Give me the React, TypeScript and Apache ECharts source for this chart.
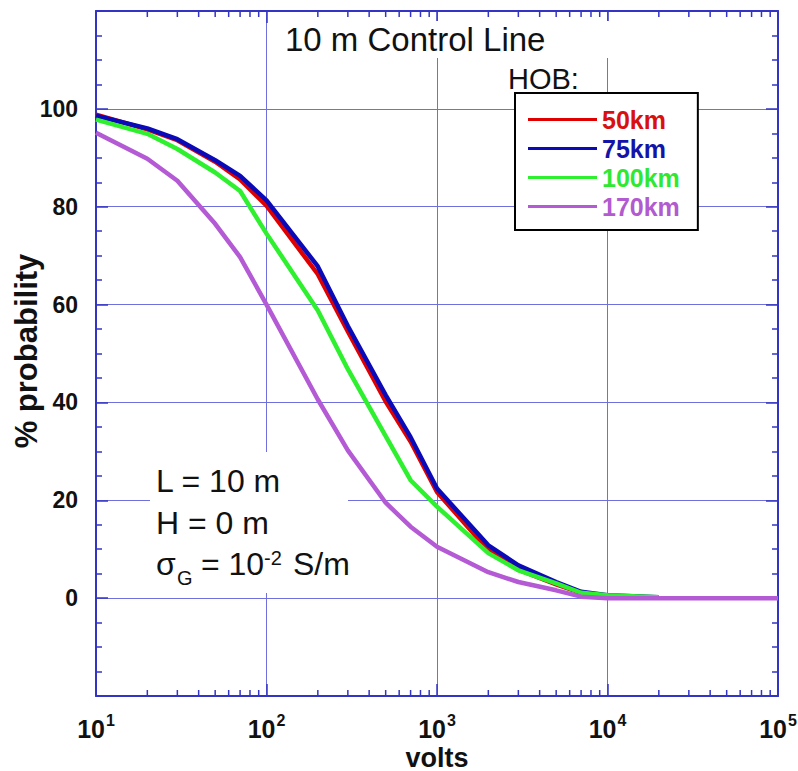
import React, { useEffect, useRef } from "react";
import * as echarts from "echarts";

const VOLTS = [10, 20, 30, 50, 70, 100, 200, 300, 500, 700, 1000, 2000, 3000, 5000, 7000, 10000, 20000, 50000, 100000];
const HOB_50 = [98.8, 95.8, 93.6, 89.2, 85.6, 80.2, 66.2, 54.5, 40.2, 32.0, 21.7, 9.8, 5.8, 2.8, 1.1, 0.5, 0.1];
const HOB_75 = [98.6, 96.0, 93.8, 89.5, 86.3, 81.3, 67.8, 55.6, 41.5, 32.9, 22.4, 10.8, 6.7, 3.3, 1.3, 0.6, 0.2];
const HOB_100 = [97.8, 94.9, 91.8, 87.0, 83.2, 74.5, 58.8, 46.8, 33.1, 24.1, 18.7, 9.2, 5.7, 3.0, 1.1, 0.6, 0.2];
const HOB_170 = [95.1, 89.8, 85.3, 76.5, 69.7, 60.0, 40.6, 30.2, 19.5, 14.6, 10.5, 5.3, 3.3, 1.6, 0.3, 0, 0, 0, 0];

const SERIES_NAMES = ["50km", "75km", "100km", "170km"];
const SERIES_VALUES = [HOB_50, HOB_75, HOB_100, HOB_170];
const LINE_COLORS = ["#e00000", "#0a0ab8", "#2ef02e", "#b45ad4"];
const TEXT_COLORS = ["#d81010", "#1414a8", "#30e830", "#b25ad0"];

const X_MIN = 10;
const X_MAX = 100000;
const Y_MIN = -20;
const Y_MAX = 120;
const Y_STEP = 20;
const Y_LABEL_MIN = 0;
const Y_LABEL_MAX = 100;

// decade tick labels (10^1 ... 10^5)
const X_DECADES = [10, 100, 1000, 10000, 100000];
// log-axis minor tick values (2..9 x 10^k)
const MINOR_X: number[] = [];
for (let k = 1; k <= 4; k++) {
  for (let m = 2; m <= 9; m++) MINOR_X.push(m * Math.pow(10, k));
}

const FONT = "'Liberation Sans', Arial, sans-serif";
const AXIS_BLUE = "#3434c4";
const GRID_BLUE = "#7070dc";

export default function App() {
  const ref = useRef<HTMLDivElement>(null);
  useEffect(() => {
    if (!ref.current) return;
    const chart = echarts.init(ref.current, null, { renderer: "svg" });

    const lineSeries = SERIES_NAMES.map((name, si) => ({
      name,
      type: "line",
      xAxisIndex: 0,
      yAxisIndex: 0,
      symbol: "none",
      smooth: false,
      z: 3,
      lineStyle: { color: LINE_COLORS[si], width: 4.5 },
      itemStyle: { color: LINE_COLORS[si] },
      data: VOLTS.map((v, i) => [v, SERIES_VALUES[si][i]]).filter(
        (d) => d[1] !== undefined && d[1] !== null
      ),
    }));

    const tickSeries = {
      name: "minorTicks",
      type: "custom",
      xAxisIndex: 0,
      yAxisIndex: 0,
      silent: true,
      clip: false,
      z: 4,
      data: MINOR_X.map((v) => [v, 0]),
      renderItem: (params: any, api: any) => {
        const x = api.value(0);
        const pb = api.coord([x, Y_MIN]);
        const pt = api.coord([x, Y_MAX]);
        const len = 6;
        const style = { stroke: AXIS_BLUE, lineWidth: 1.5 };
        return {
          type: "group",
          children: [
            { type: "line", shape: { x1: pb[0], y1: pb[1], x2: pb[0], y2: pb[1] - len }, style },
            { type: "line", shape: { x1: pt[0], y1: pt[1], x2: pt[0], y2: pt[1] + len }, style },
          ],
        };
      },
    };

    const labelSeries = {
      name: "decadeLabels",
      type: "custom",
      xAxisIndex: 0,
      yAxisIndex: 0,
      silent: true,
      clip: false,
      z: 4,
      data: X_DECADES.map((v) => [v, Y_MIN]),
      renderItem: (params: any, api: any) => {
        const v = api.value(0);
        const p = api.coord([v, Y_MIN]);
        const exp = String(Math.round(Math.log10(v)));
        return {
          type: "group",
          children: [
            {
              type: "text",
              x: p[0] + 9,
              y: p[1] + 33,
              style: { text: "10", fontSize: 25, fontWeight: "bold", fontFamily: FONT, fill: "#111", align: "right", verticalAlign: "middle" },
            },
            {
              type: "text",
              x: p[0] + 10,
              y: p[1] + 24,
              style: { text: exp, fontSize: 16, fontWeight: "bold", fontFamily: FONT, fill: "#111", align: "left", verticalAlign: "middle" },
            },
          ],
        };
      },
    };

    const option: any = {
      animation: false,
      backgroundColor: "#ffffff",
      grid: { left: 96, top: 11, right: 20, bottom: 75, containLabel: false, outerBoundsMode: "none" },
      legend: {
        show: true,
        orient: "vertical",
        left: 515,
        top: 93,
        padding: [14, 18, 11, 13],
        itemGap: 4,
        itemWidth: 69,
        itemHeight: 3,
        icon: "rect",
        backgroundColor: "#ffffff",
        borderColor: "#000000",
        borderWidth: 2,
        borderRadius: 0,
        selectedMode: false,
        textStyle: { fontSize: 25, fontWeight: "bold", fontFamily: FONT, padding: [0, 0, 0, 0] },
        data: SERIES_NAMES.map((n, i) => ({ name: n, textStyle: { color: TEXT_COLORS[i] } })),
      },
      xAxis: [
        {
          type: "log",
          logBase: 10,
          min: X_MIN,
          max: X_MAX,
          position: "bottom",
          name: "volts",
          nameLocation: "middle",
          nameGap: 48,
          nameTextStyle: { fontSize: 27, fontWeight: "bold", fontFamily: FONT, color: "#111" },
          axisLine: { show: true, onZero: false, lineStyle: { color: AXIS_BLUE, width: 2 } },
          axisTick: { show: true, inside: true, length: 12, lineStyle: { color: AXIS_BLUE, width: 1.5 } },
          axisLabel: { show: false },
          splitLine: { show: true, lineStyle: { color: GRID_BLUE, width: 1 } },
        },
        {
          type: "log",
          logBase: 10,
          min: X_MIN,
          max: X_MAX,
          position: "top",
          axisLine: { show: true, onZero: false, lineStyle: { color: AXIS_BLUE, width: 2 } },
          axisTick: { show: true, inside: true, length: 12, lineStyle: { color: AXIS_BLUE, width: 1.5 } },
          axisLabel: { show: false },
          splitLine: { show: false },
        },
      ],
      yAxis: [
        {
          type: "value",
          min: Y_MIN,
          max: Y_MAX,
          interval: Y_STEP,
          position: "left",
          axisLine: { show: true, onZero: false, lineStyle: { color: AXIS_BLUE, width: 2 } },
          axisTick: { show: true, inside: true, length: 12, lineStyle: { color: AXIS_BLUE, width: 1.5 } },
          minorTick: { show: true, splitNumber: 4, length: 6, lineStyle: { color: AXIS_BLUE, width: 1.5 } },
          axisLabel: {
            margin: 18,
            fontSize: 23,
            fontWeight: "bold",
            fontFamily: FONT,
            color: "#111",
            formatter: (v: number) => (v >= Y_LABEL_MIN && v <= Y_LABEL_MAX ? String(v) : ""),
          },
          splitLine: { show: true, lineStyle: { color: GRID_BLUE, width: 1 } },
        },
        {
          type: "value",
          min: Y_MIN,
          max: Y_MAX,
          interval: Y_STEP,
          position: "right",
          axisLine: { show: true, onZero: false, lineStyle: { color: AXIS_BLUE, width: 2 } },
          axisTick: { show: true, inside: true, length: 12, lineStyle: { color: AXIS_BLUE, width: 1.5 } },
          minorTick: { show: true, splitNumber: 4, length: 6, lineStyle: { color: AXIS_BLUE, width: 1.5 } },
          axisLabel: { show: false },
          splitLine: { show: false },
        },
      ],
      graphic: [
        { type: "rect", z: 1, silent: true, shape: { x: 274, y: 21, width: 352, height: 37 }, style: { fill: "#ffffff" } },
        { type: "rect", z: 1, silent: true, shape: { x: 150, y: 452, width: 198, height: 141 }, style: { fill: "#ffffff" } },
        {
          type: "text", z: 5, silent: true, x: 26, y: 351, rotation: Math.PI / 2,
          style: { text: "% probability", fontSize: 31, fontWeight: "bold", fontFamily: FONT, fill: "#111", align: "center", verticalAlign: "middle" },
        },
        {
          type: "text", z: 5, silent: true, x: 285, y: 39,
          style: { text: "10 m Control Line", fontSize: 33, fontFamily: FONT, fill: "#111", align: "left", verticalAlign: "middle" },
        },
        {
          type: "text", z: 5, silent: true, x: 508, y: 79,
          style: { text: "HOB:", fontSize: 29, fontFamily: FONT, fill: "#111", align: "left", verticalAlign: "middle" },
        },
        {
          type: "text", z: 5, silent: true, x: 156, y: 481,
          style: { text: "L = 10 m", fontSize: 32, fontFamily: FONT, fill: "#111", align: "left", verticalAlign: "middle" },
        },
        {
          type: "text", z: 5, silent: true, x: 156, y: 523,
          style: { text: "H = 0 m", fontSize: 32, fontFamily: FONT, fill: "#111", align: "left", verticalAlign: "middle" },
        },
        {
          type: "text", z: 5, silent: true, x: 156, y: 564,
          style: { text: "σ", fontSize: 32, fontFamily: FONT, fill: "#111", align: "left", verticalAlign: "middle" },
        },
        {
          type: "text", z: 5, silent: true, x: 177, y: 578,
          style: { text: "G", fontSize: 20, fontFamily: FONT, fill: "#111", align: "left", verticalAlign: "middle" },
        },
        {
          type: "text", z: 5, silent: true, x: 192, y: 564,
          style: { text: " = 10", fontSize: 32, fontFamily: FONT, fill: "#111", align: "left", verticalAlign: "middle" },
        },
        {
          type: "text", z: 5, silent: true, x: 264, y: 558,
          style: { text: "-2", fontSize: 20, fontFamily: FONT, fill: "#111", align: "left", verticalAlign: "middle" },
        },
        {
          type: "text", z: 5, silent: true, x: 284, y: 564,
          style: { text: " S/m", fontSize: 32, fontFamily: FONT, fill: "#111", align: "left", verticalAlign: "middle" },
        },
      ],
      series: [...lineSeries, tickSeries, labelSeries],
    };

    chart.setOption(option);
    return () => chart.dispose();
  }, []);

  return <div ref={ref} style={{ width: 798, height: 771, position: "absolute", left: 0, top: 0 }} />;
}
